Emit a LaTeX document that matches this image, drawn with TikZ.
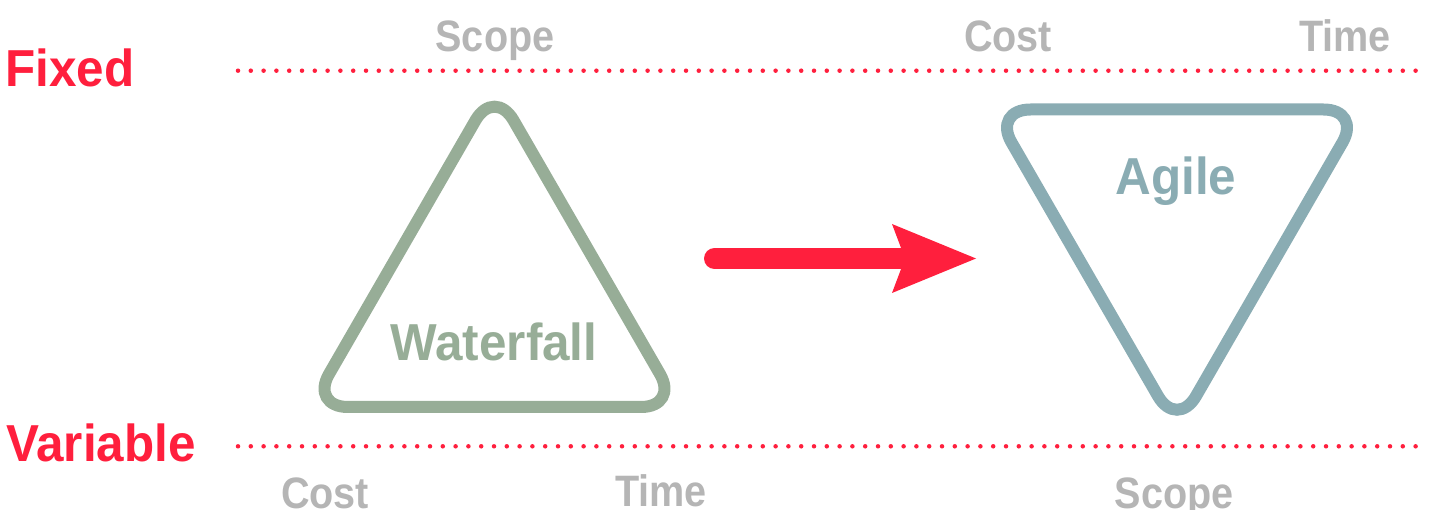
\documentclass[tikz,border=0pt]{standalone}
\usepackage{fontspec}
\setmainfont{Liberation Sans}[FakeStretch=0.9]
\newfontfamily\widesans{Liberation Sans}[FakeStretch=0.95]
\usetikzlibrary{arrows.meta}

\definecolor{hotred}{HTML}{FF1F3D}
\definecolor{labelgray}{HTML}{B5B5B5}
\definecolor{sage}{HTML}{97AD97}
\definecolor{steel}{HTML}{8AACB3}

\tikzset{
    rowlabel/.style={font=\widesans\bfseries\fontsize{52}{52}\selectfont, text=hotred, anchor=base west, inner sep=0pt},
    varlabel/.style={font=\bfseries\fontsize{44}{44}\selectfont, text=labelgray, anchor=base, inner sep=0pt},
    methodlabel/.style={font=\widesans\bfseries\fontsize{52}{52}\selectfont, anchor=base, inner sep=0pt},
    dotline/.style={hotred, line width=4.5pt, line cap=round, dash pattern=on 0pt off 12.8pt},
    tri/.style={line width=12pt, rounded corners=38pt},
}

\begin{document}
\begin{tikzpicture}[x=1pt, y=-1pt, >=Stealth]
    \useasboundingbox (0,0) rectangle (1441,510);
    % Row labels
    \node[rowlabel] (fixed) at (5,87) {Fixed};
    \node[rowlabel] (variable) at (6,462) {Variable};
    % Dotted separators
    \coordinate (fixed line start) at (238,70.7);
    \coordinate (fixed line end) at (1428,70.7);
    \coordinate (var line start) at (238,446.3);
    \coordinate (var line end) at (1428,446.3);
    \draw[dotline] (fixed line start) -- (fixed line end);
    \draw[dotline] (var line start) -- (var line end);
    % Waterfall: scope fixed, cost and time variable
    \draw[tri, sage] (494.5,87.4) -- (679,407) -- (310,407) -- cycle;
    \node[methodlabel, text=sage] (waterfall) at (494,361) {Waterfall};
    \node[varlabel] (wf scope) at (495,52) {Scope};
    \node[varlabel] (wf cost) at (325,508) {Cost};
    \node[varlabel] (wf time) at (661,507) {Time};
    % Agile: cost and time fixed, scope variable
    \draw[tri, steel] (992.5,109.5) -- (1361.5,109.5) -- (1177,429) -- cycle;
    \node[methodlabel, text=steel] (agile) at (1176,195) {Agile};
    \node[varlabel] (ag cost) at (1008,52) {Cost};
    \node[varlabel] (ag time) at (1345,52) {Time};
    \node[varlabel] (ag scope) at (1174,508) {Scope};
    % Shift arrow
    \coordinate (arrow start) at (714.5,258.5);
    \coordinate (arrow end) at (976,258.5);
    \draw[hotred, line width=21pt, line cap=round,
        -{Stealth[length=84pt, width=69pt, inset=13pt, line width=0pt]}]
        (arrow start) -- (arrow end);
\end{tikzpicture}
\end{document}
